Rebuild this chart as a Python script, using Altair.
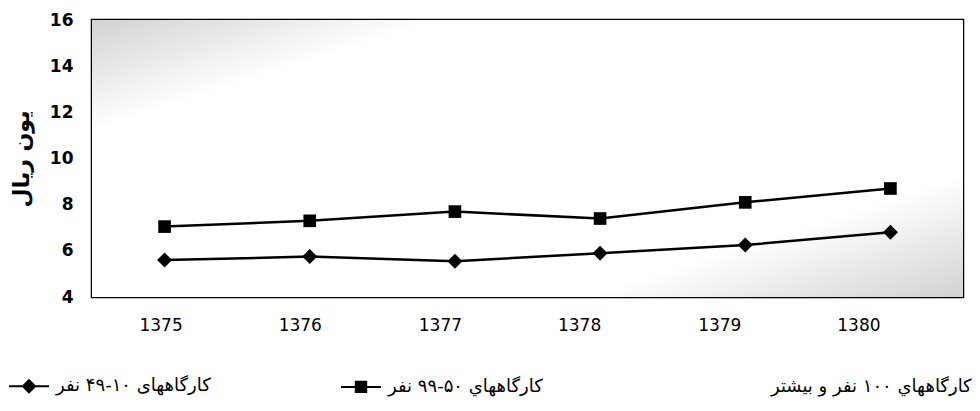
import altair as alt
import pandas as pd

# ---- data ----
years = ["1375", "1376", "1377", "1378", "1379", "1380"]
series_names = [
    "کارگاههای ۱۰-۴۹ نفر",
    "کارگاههاي ۵۰-۹۹ نفر",
    "کارگاههاي ۱۰۰ نفر و بيشتر",
]
small_values = [5.6, 5.75, 5.55, 5.9, 6.25, 6.8]      # 10-49 persons (diamonds)
medium_values = [7.05, 7.3, 7.7, 7.4, 8.1, 8.7]       # 50-99 persons (squares)
y_ticks = [4, 6, 8, 10, 12, 14, 16]
y_domain = [4, 16]
y_title = "یون ریال"

# ---- layout constants ----
W, H = 871, 277
FONT = "DejaVu Sans"
# the scanned tick labels drift slightly left of their category centres
label_shift = [-4, -10, -15, -21, -26, -32]

rows = []
for i, yr in enumerate(years):
    rows.append({"year": yr, "series": series_names[0], "value": small_values[i]})
    rows.append({"year": yr, "series": series_names[1], "value": medium_values[i]})
df = pd.DataFrame(rows)

label_offset = {
    "condition": [
        {"test": "datum.value == '" + yr + "'", "value": s}
        for yr, s in zip(years[:-1], label_shift[:-1])
    ],
    "value": label_shift[-1],
}

x_enc = alt.X(
    "year:O", sort=years,
    scale=alt.Scale(paddingInner=0, paddingOuter=0),
    axis=alt.Axis(title=None, labelAngle=0, ticks=False, domain=False, grid=False,
                  labelPadding=20, labelFontSize=17, labelFont=FONT, labelColor="black",
                  labelOffset=label_offset),
)
y_enc = alt.Y(
    "value:Q",
    scale=alt.Scale(domain=y_domain, nice=False, zero=False),
    axis=alt.Axis(values=y_ticks, title=y_title, grid=False, ticks=False, domain=False,
                  labelPadding=19, labelFontSize=17, labelFont=FONT, labelFontWeight="bold",
                  labelColor="black", titleFont=FONT, titleFontSize=22, titleFontWeight="bold",
                  titleColor="black", titlePadding=16),
)

bg = alt.Chart(pd.DataFrame({"k": [0]})).mark_rect(
    fill=alt.LinearGradient(
        gradient="linear",
        stops=[
            alt.GradientStop(color="#d2d2d2", offset=0),
            alt.GradientStop(color="#ffffff", offset=0.2),
            alt.GradientStop(color="#ffffff", offset=0.78),
            alt.GradientStop(color="#d2d2d2", offset=1),
        ],
        x1=0, y1=0, x2=1, y2=1,
    )
).encode(x=alt.value(0), x2=alt.value(W), y=alt.value(0), y2=alt.value(H))

base = alt.Chart(df)
lines = base.mark_line(color="black", strokeWidth=2.5).encode(
    x=x_enc, y=y_enc, detail="series:N"
)
diamonds = base.transform_filter(alt.datum.series == series_names[0]).mark_point(
    shape="diamond", filled=True, color="black", size=225, opacity=1
).encode(x=x_enc, y=y_enc)
squares = base.transform_filter(alt.datum.series == series_names[1]).mark_point(
    shape="square", filled=True, color="black", size=160, opacity=1
).encode(x=x_enc, y=y_enc)

# legend glyphs: a short line with the marker on it (normalised to [-1, 1])
diamond_sym = "M-1,-0.05H1V0.05H-1ZM0,-0.375L0.375,0L0,0.375L-0.375,0Z"
square_sym = "M-1,-0.05H1V0.05H-1ZM-0.31,-0.31H0.31V0.31H-0.31Z"
empty_sym = "M0,0L0,0"

# blank (braille-blank) padding after the 2nd label so the 3rd entry sits further right
pad = "\u2800" * 4
legend_label_expr = "datum.index == 1 ? datum.label + '" + pad + "' : datum.label"

legend_layer = base.transform_filter("false").mark_point(
    filled=True, color="black", opacity=1
).encode(
    shape=alt.Shape(
        "series:N",
        scale=alt.Scale(domain=series_names, range=[diamond_sym, square_sym, empty_sym]),
        legend=alt.Legend(
            title=None, orient="none", legendX=-84, legendY=345, direction="horizontal",
            symbolSize=1600, labelFont=FONT, labelFontSize=18, labelExpr=legend_label_expr,
            labelColor="black", columnPadding=127, labelOffset=6, labelLimit=400,
        ),
    )
)

chart = alt.layer(bg, lines, diamonds, squares, legend_layer).properties(
    width=W, height=H,
    padding={"left": 84, "top": 12, "right": 9, "bottom": 103},
    autosize=alt.AutoSizeParams(type="none"),
    background="white",
).configure_view(stroke="black", strokeWidth=2.5)

chart.save("out.html", embed_options={"renderer": "svg", "actions": False})
